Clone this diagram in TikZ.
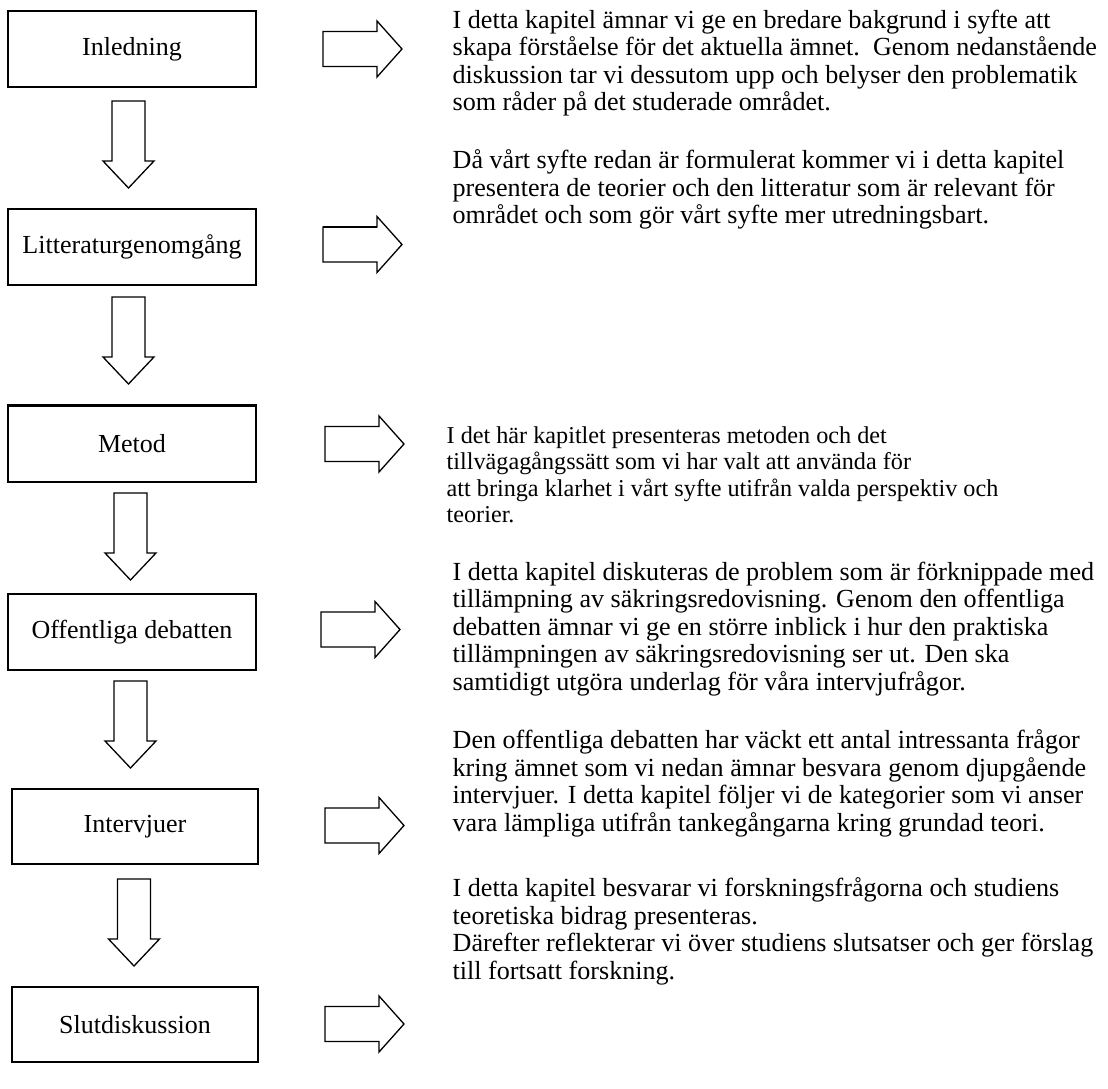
\documentclass[tikz,border=0pt]{standalone}
\usepackage{fontspec}
\setmainfont{Liberation Serif}
\begin{document}
\begin{tikzpicture}[x=1pt,y=-1pt,line width=1.3pt,
  box/.style={draw,minimum width=248pt,minimum height=76pt,inner sep=0pt,font=\fontsize{26}{30}\selectfont},
  desc/.style={anchor=north west,inner sep=0pt,align=left,font=\fontsize{26.1}{27.6}\selectfont,
    execute at begin node={\rule{0pt}{21pt}}},
  downarr/.pic={\draw (-16.5,0) -- (16.5,0) -- (16.5,60) -- (25.5,60) -- (0,87) -- (-25.5,60) -- (-16.5,60) -- cycle;},
  rightarr/.pic={\draw (0,-17.5) -- (54,-17.5) -- (54,-28) -- (79,0) -- (54,28) -- (54,17.5) -- (0,17.5) -- cycle;}
]
\useasboundingbox (0,0) rectangle (1108,1089);

\node[box] (b1) at (132,49) {Inledning};
\node[box] (b2) at (132,247) {Litteraturgenomgång};
\node[box] (b3) at (132,444) {Metod};
\draw[line width=2.6pt] (b3.north west) -- (b3.north east);
\node[box] (b4) at (132,632) {Offentliga debatten};
\node[box,minimum width=246pt,minimum height=75pt] (b5) at (135,826.5) {Intervjuer};
\node[box,minimum width=246pt,minimum height=75pt] (b6) at (135,1024.5) {Slutdiskussion};

\pic (d1) at (128.5,101) {downarr};
\pic (d2) at (128.5,297) {downarr};
\pic (d3) at (130.5,493) {downarr};
\pic (d4) at (130.5,681) {downarr};
\pic (d5) at (134,879) {downarr};

\pic (r1) at (323,49) {rightarr};
\pic (r2) at (323,244.5) {rightarr};
\draw[line width=2.6pt] (323,227) -- (377,227);
\pic (r3) at (325,444) {rightarr};
\pic (r4) at (321,629.5) {rightarr};
\pic (r5) at (325,825.5) {rightarr};
\pic (r6) at (325,1024) {rightarr};

\node[desc] (t1) at (452,9) {I detta kapitel ämnar vi ge en bredare bakgrund i syfte att\\
skapa förståelse för det aktuella ämnet.\ \ Genom nedanstående\\
diskussion tar vi dessutom upp och belyser den problematik\\
som råder på det studerade området.};
\node[desc] (t2) at (452,149) {Då vårt syfte redan är formulerat kommer vi i detta kapitel\\
presentera de teorier och den litteratur som är relevant för\\
området och som gör vårt syfte mer utredningsbart.};
\node[desc,font=\fontsize{24.2}{26.5}\selectfont] (t3) at (446,426) {I det här kapitlet presenteras metoden och det\\
tillvägagångssätt som vi har valt att använda för\\
att bringa klarhet i vårt syfte utifrån valda perspektiv och\\
teorier.};
\node[desc] (t4) at (452,561) {I detta kapitel diskuteras de problem som är förknippade med\\
tillämpning av säkringsredovisning. Genom den offentliga\\
debatten ämnar vi ge en större inblick i hur den praktiska\\
tillämpningen av säkringsredovisning ser ut. Den ska\\
samtidigt utgöra underlag för våra intervjufrågor.};
\node[desc] (t5) at (452,729) {Den offentliga debatten har väckt ett antal intressanta frågor\\
kring ämnet som vi nedan ämnar besvara genom djupgående\\
intervjuer. I detta kapitel följer vi de kategorier som vi anser\\
vara lämpliga utifrån tankegångarna kring grundad teori.};
\node[desc] (t6) at (452,877) {I detta kapitel besvarar vi forskningsfrågorna och studiens\\
teoretiska bidrag presenteras.\\
Därefter reflekterar vi över studiens slutsatser och ger förslag\\
till fortsatt forskning.};
\end{tikzpicture}
\end{document}
